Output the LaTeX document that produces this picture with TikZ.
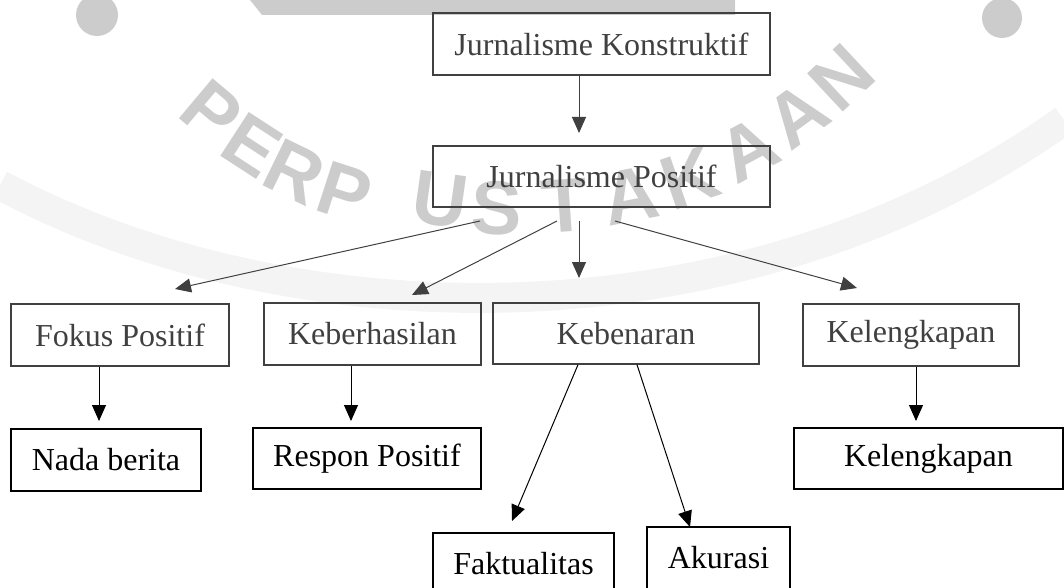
\documentclass[tikz,border=0pt]{standalone}
\usepackage{fontspec}
\setmainfont{Liberation Serif}
\newfontfamily\wmfont{Liberation Sans}
\usetikzlibrary{arrows.meta}
\definecolor{upgray}{HTML}{404040}
\definecolor{wmgray}{HTML}{CCCCCC}
\definecolor{bandgray}{HTML}{F4F4F4}
\tikzset{
  boxu/.style={draw=upgray, text=upgray, line width=0.7pt, inner sep=0pt, font=\fontsize{16}{19}\selectfont},
  boxl/.style={draw=black, text=black, line width=0.7pt, inner sep=0pt, font=\fontsize{16}{19}\selectfont},
  arru/.style={draw=upgray, line width=0.5pt, -{Triangle[length=8pt,width=7pt]}},
  arrl/.style={draw=black, line width=0.5pt, -{Triangle[length=8pt,width=7pt]}},
  wm/.style={text=wmgray, font=\wmfont\bfseries\fontsize{38}{40}\selectfont, inner sep=0pt}
}
\begin{document}
\begin{tikzpicture}[x=0.5pt,y=-0.5pt]
\useasboundingbox (0,0) rectangle (1064,588);
\clip (0,0) rectangle (1064,588);
% watermark
\draw[bandgray, line width=15pt] (0,185) .. controls (300,345) and (750,345) .. (1064,120);
\fill[wmgray] (250,0) -- (735,0) -- (735,15) -- (262,15) -- cycle;
\fill[wmgray] (97,15) circle (21);
\fill[wmgray] (1002,18) circle (20);
\node[wm, rotate=-40] (w1) at (212,112) {P};
\node[wm, rotate=-33] (w2) at (252,145) {E};
\node[wm, rotate=-26] (w3) at (295,172) {R};
\node[wm, rotate=-18] (w4) at (345,192) {P};
\node[wm, rotate=-8] (w5) at (440,200) {U};
\node[wm, rotate=-2] (w6) at (497,208) {S};
\node[wm, rotate=4] (w7) at (565,206) {T};
\node[wm, rotate=11] (w8) at (630,196) {A};
\node[wm, rotate=19] (w9) at (690,178) {K};
\node[wm, rotate=28] (w10) at (748,150) {A};
\node[wm, rotate=36] (w11) at (797,115) {A};
\node[wm, rotate=43] (w12) at (842,78) {N};
% boxes
\node[boxu, minimum width=168.5pt, minimum height=31pt] (jk) at (601.5,44) {Jurnalisme Konstruktif};
\node[boxu, minimum width=168.5pt, minimum height=30.5pt] (jp) at (601.5,176.5) {Jurnalisme Positif};
\node[boxu, minimum width=109pt, minimum height=31pt] (fokus) at (120,335) {Fokus Positif};
\node[boxu, minimum width=108.5pt, minimum height=31pt] (keber) at (372.5,334) {Keberhasilan};
\node[boxu, minimum width=133pt, minimum height=30.5pt] (keben) at (626,333.5) {Kebenaran};
\node[boxu, minimum width=108pt, minimum height=31pt] (keleng) at (911,335) {Kelengkapan};
\node[boxl, minimum width=95pt, minimum height=31pt] (nada) at (106,460) {Nada berita};
\node[boxl, minimum width=114pt, minimum height=30.5pt] (respon) at (367,458.5) {Respon Positif};
\node[boxl, minimum width=134.5pt, minimum height=30.5pt] (keleng2) at (928.5,458.5) {Kelengkapan};
\node[boxl, minimum width=90.5pt, minimum height=31pt] (fakt) at (523.5,564) {Faktualitas};
\node[boxl, minimum width=71.5pt, minimum height=31pt] (akur) at (718.5,558) {Akurasi};
% connector ends
\coordinate (t1) at (579,133);
\coordinate (s2) at (480,221);
\coordinate (t2) at (175,289);
\coordinate (s3) at (557,221);
\coordinate (t3) at (412,295);
\coordinate (s4) at (579,221);
\coordinate (t4) at (579,278);
\coordinate (s5) at (615,221);
\coordinate (t5) at (857,288);
\coordinate (t6) at (99,421);
\coordinate (t7) at (351,421);
\coordinate (t8) at (916,421);
\coordinate (s9) at (578,364);
\coordinate (t9) at (512,521);
\coordinate (s10) at (637,364);
\coordinate (t10) at (690,527);
% connectors
\draw[arru] (jk.south -| t1) -- (t1);
\draw[arru] (s2) -- (t2);
\draw[arru] (s3) -- (t3);
\draw[arru] (s4) -- (t4);
\draw[arru] (s5) -- (t5);
\draw[arrl] (fokus.south -| t6) -- (t6);
\draw[arrl] (keber.south -| t7) -- (t7);
\draw[arrl] (keleng.south -| t8) -- (t8);
\draw[arrl] (keben.south -| s9) -- (t9);
\draw[arrl] (keben.south -| s10) -- (t10);
\end{tikzpicture}
\end{document}
